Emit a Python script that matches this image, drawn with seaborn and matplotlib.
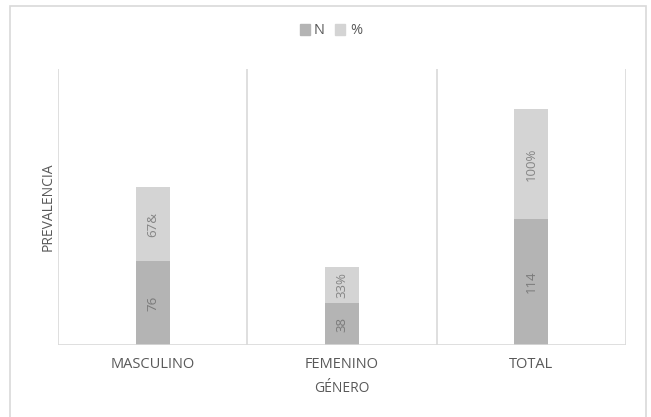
import matplotlib
matplotlib.use("Agg")
import matplotlib.pyplot as plt
import matplotlib.patches as mpatches
import seaborn as sns
import pandas as pd

categories = ["MASCULINO", "FEMENINO", "TOTAL"]
n_values = [76, 38, 114]
pct_values = [67, 33, 100]
n_labels = ["76", "38", "114"]
pct_labels = ["67&", "33%", "100%"]
series_names = ["N", "%"]

color_n = "#b4b4b4"
color_pct = "#d4d4d4"
grid_c = "#d9d9d9"
text_c = "#595959"

sns.set_theme(style="white")
plt.rcParams["font.family"] = ["Open Sans", "DejaVu Sans"]

df = pd.DataFrame({"cat": categories, "N": n_values, "pct": pct_values})
df["stack"] = df["N"] + df["pct"]

fig = plt.figure(figsize=(6.51, 4.17), dpi=100)
ax = fig.add_axes([58 / 651, 1 - 345 / 417, (626 - 58) / 651, (345 - 69) / 417])

sns.barplot(data=df, x="cat", y="stack", color=color_pct, width=0.18,
            saturation=1, ax=ax, linewidth=0)
sns.barplot(data=df, x="cat", y="N", color=color_n, width=0.18,
            saturation=1, ax=ax, linewidth=0)

ax.set_ylim(0, 250)
ax.set_xlim(-0.5, 2.5)
for s in ax.spines.values():
    s.set_visible(False)
for xv in [-0.5, 0.5, 1.5, 2.5]:
    ax.axvline(xv, color=grid_c, lw=1.2, zorder=0)
ax.axhline(0, color=grid_c, lw=1.2, zorder=3)

ax.set_yticks([])
ax.tick_params(axis="x", length=0, pad=9, labelsize=10.5, labelcolor=text_c)
ax.set_xticks(range(len(categories)))
ax.set_xticklabels(categories)
ax.set_xlabel("GÉNERO", fontsize=10, color=text_c, labelpad=6)
ax.set_ylabel("PREVALENCIA", fontsize=10, color=text_c, labelpad=2)

for i in range(len(categories)):
    ax.text(i, n_values[i] / 2, n_labels[i], rotation=90, ha="center",
            va="center", fontsize=9.5, color="#7a7a7a")
    ax.text(i, n_values[i] + pct_values[i] / 2, pct_labels[i], rotation=90,
            ha="center", va="center", fontsize=9.5, color="#858585")

handles = [mpatches.Patch(color=color_n, label=series_names[0]),
           mpatches.Patch(color=color_pct, label=series_names[1])]
fig.legend(handles=handles, loc="center", bbox_to_anchor=(0.508, 1 - 31 / 417),
           ncol=2, frameon=False, fontsize=10.5, handlelength=0.7,
           handleheight=0.7, handletextpad=0.3, columnspacing=0.7,
           labelcolor=text_c)

fig.patches.append(mpatches.Rectangle((10 / 651, -0.05), (646 - 10) / 651,
                                      1.05 - 6 / 417, transform=fig.transFigure,
                                      fill=False, edgecolor=grid_c, lw=1.2))

fig.savefig("out.png", dpi=100)
